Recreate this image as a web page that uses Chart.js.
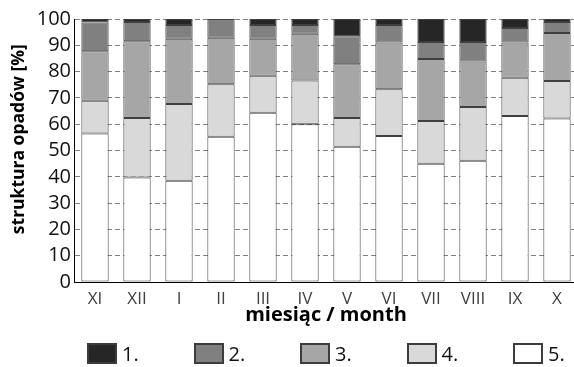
<!DOCTYPE html>
<html>
<head>
<meta charset="utf-8">
<script src="https://cdn.jsdelivr.net/npm/chart.js@4.4.0/dist/chart.umd.min.js"></script>
<style>
html,body{margin:0;padding:0;overflow:hidden;background:#fff;}
#wrap{position:relative;width:574px;height:367px;overflow:hidden;}
canvas{position:absolute;left:0;top:0;}
.lg{position:absolute;top:343px;display:flex;align-items:center;height:21px;font-family:"Open Sans",sans-serif;font-size:20px;color:#111;white-space:nowrap;}
.lg span.b{display:inline-block;width:30px;height:21px;box-sizing:border-box;border:2px solid #3c3c3c;margin-right:5px;}
</style>
</head>
<body>
<div id="wrap">
<canvas id="c" width="578" height="367"></canvas>
<div id="legend"></div>
</div>
<script>
// Categories (months, hydrological year order)
const months = ["XI","XII","I","II","III","IV","V","VI","VII","VIII","IX","X"];
// Series values [%] per month
const s1 = [1.3, 1.1, 2.3, 0.0, 2.3, 2.3, 6.6, 2.3, 8.7, 8.7, 3.4, 1.1];
const s2 = [11.0, 7.4, 5.2, 7.1, 5.2, 3.3, 10.6, 6.6, 6.5, 7.5, 5.5, 4.2];
const s3 = [18.8, 29.1, 24.8, 17.7, 14.1, 17.8, 20.4, 17.8, 23.6, 17.3, 13.4, 18.3];
const s4 = [12.4, 22.7, 29.2, 20.0, 14.0, 16.6, 11.0, 17.8, 16.2, 20.4, 14.6, 14.2];
const s5 = [56.5, 39.7, 38.5, 55.2, 64.4, 60.0, 51.4, 55.5, 45.0, 46.1, 63.1, 62.2];
const seriesLabels = ["1.","2.","3.","4.","5."];
const seriesColors = ["#262626","#808080","#a6a6a6","#d9d9d9","#ffffff"];
const yTicks = [0,10,20,30,40,50,60,70,80,90,100];

const FONT = "'Open Sans', sans-serif";
const allSeries = [s1,s2,s3,s4,s5];
// stack bottom -> top : 5,4,3,2,1
const datasets = [4,3,2,1,0].map(i => ({
  label: seriesLabels[i],
  data: allSeries[i],
  backgroundColor: seriesColors[i],
  borderColor: "#3f3f3f",
  borderWidth: 1,
  borderSkipped: false,
  barPercentage: 0.65,
  categoryPercentage: 1.0
}));

new Chart(document.getElementById("c"), {
  type: "bar",
  data: { labels: months, datasets },
  options: {
    responsive: false,
    animation: false,
    layout: { padding: { top: 19, bottom: 41, left: 0, right: 0 } },
    plugins: { legend: { display: false }, tooltip: { enabled: false } },
    scales: {
      x: {
        stacked: true,
        offset: true,
        grid: { display: false },
        border: { display: true, color: "#000", width: 1, z: 1 },
        ticks: { color: "#404040", font: { family: FONT, size: 17, lineHeight: 1 }, padding: 1 },
        title: { display: true, text: "miesiąc / month", color: "#000",
                 font: { family: FONT, size: 20, weight: "bold", lineHeight: 1.1 }, padding: { top: 0, bottom: 0 } },
        afterFit: (s) => { s.height = 44; }
      },
      y: {
        stacked: true,
        min: 0, max: 100,
        afterBuildTicks: (s) => { s.ticks = yTicks.map(v => ({ value: v })); },
        grid: { color: "#808080", lineWidth: 1, drawTicks: false },
        border: { display: true, color: "#000", width: 1, dash: [5, 3], z: 1 },
        ticks: { color: "#111", font: { family: FONT, size: 20 }, padding: 3, autoSkip: false },
        title: { display: true, text: "     struktura opadów [%]", color: "#000",
                 font: { family: FONT, size: 17.5, weight: "bold" }, padding: { top: 9, bottom: 0 } },
        afterFit: (s) => { s.width = 74; }
      }
    }
  }
});

// HTML legend
const lg = document.getElementById("legend");
seriesLabels.forEach((lab, i) => {
  const d = document.createElement("div");
  d.className = "lg";
  d.style.left = (87 + i * 106.5) + "px";
  const b = document.createElement("span");
  b.className = "b";
  b.style.background = seriesColors[i];
  d.appendChild(b);
  d.appendChild(document.createTextNode(lab));
  lg.appendChild(d);
});
</script>
</body>
</html>
